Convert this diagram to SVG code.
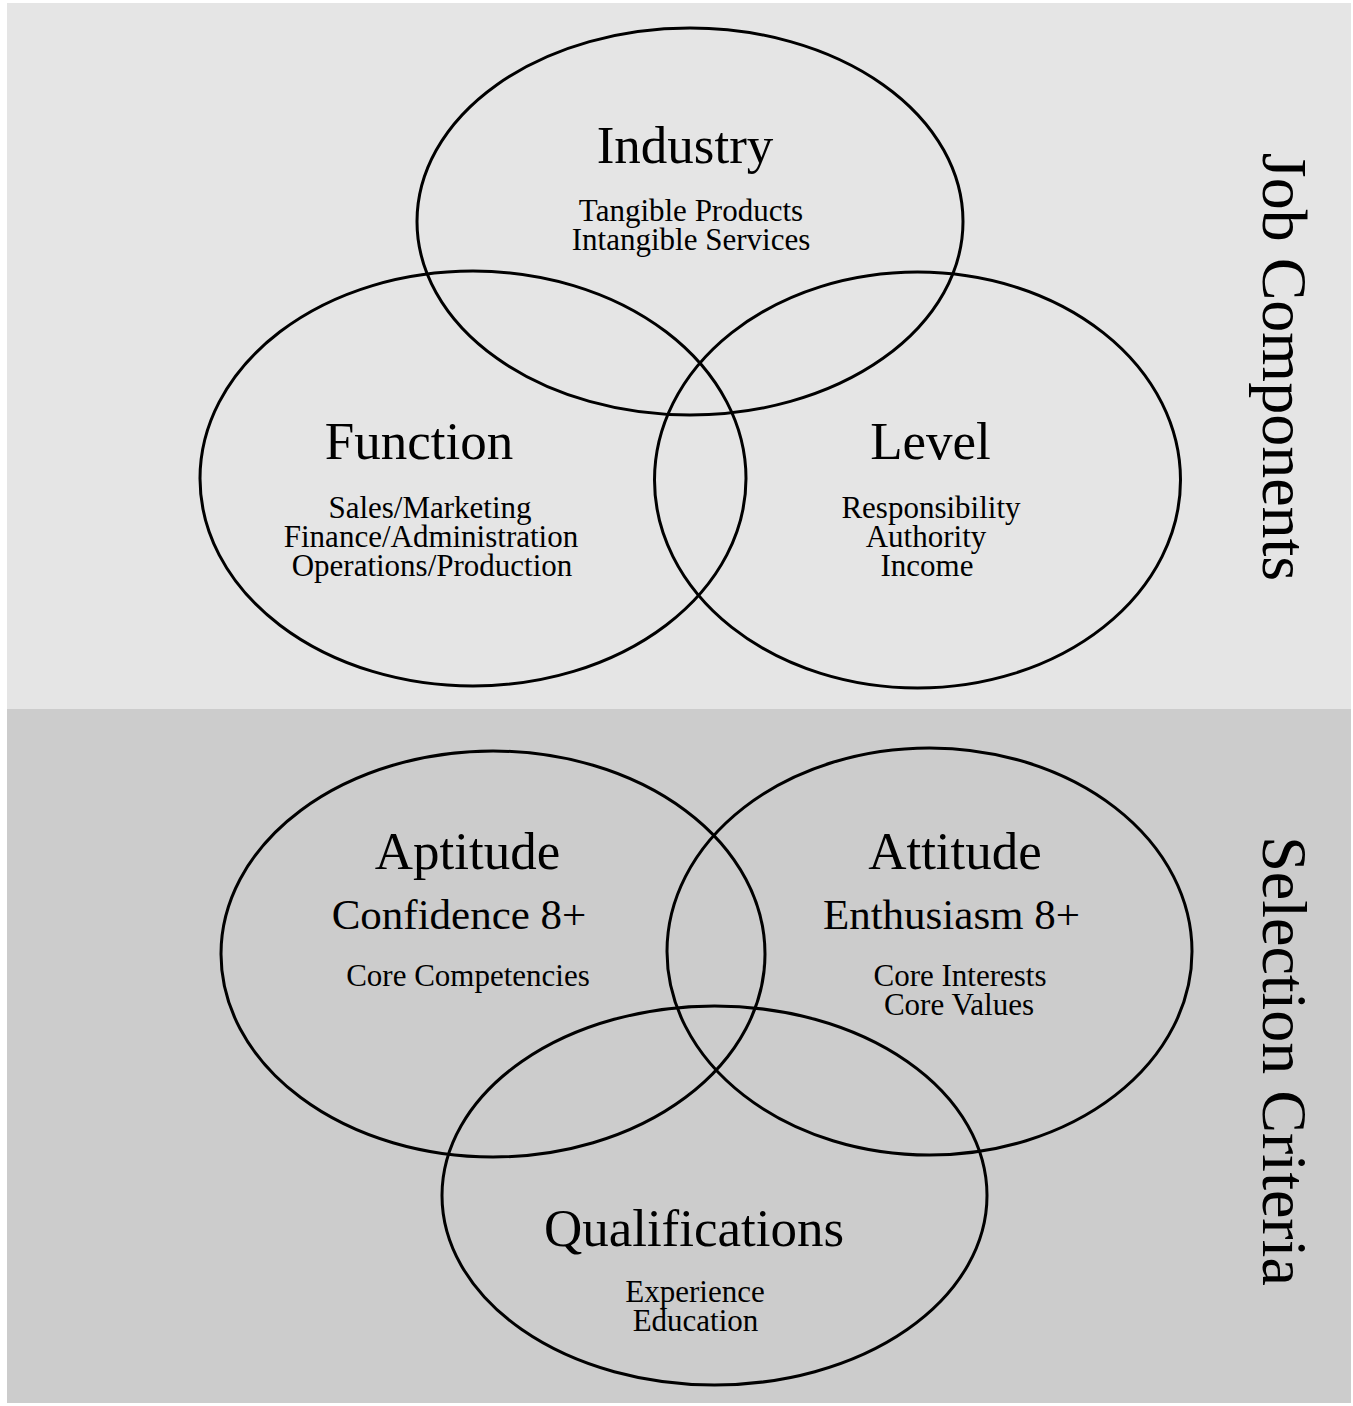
<svg xmlns="http://www.w3.org/2000/svg" width="1353" height="1406" viewBox="0 0 1353 1406">
  <style>
    .ring { fill: none; stroke: #000; stroke-width: 3; }
    text { font-family: "Liberation Serif", "Times New Roman", serif; fill: #000; text-anchor: middle; }
    .title { font-size: 53px; }
    .mid { font-size: 43px; }
    .sub { font-size: 31px; }
    .side { font-size: 64px; }
  </style>

  <!-- background bands -->
  <rect x="7" y="3" width="1344" height="706" fill="#e5e5e5"/>
  <rect x="7" y="709" width="1344" height="694" fill="#cccccc"/>

  <!-- Job components -->
  <g id="industry">
    <ellipse class="ring" cx="690" cy="221.5" rx="273" ry="193.5"/>
    <text class="title" x="685" y="163">Industry</text>
    <text class="sub" x="691" y="221">Tangible Products</text>
    <text class="sub" x="691" y="250">Intangible Services</text>
  </g>
  <g id="function">
    <ellipse class="ring" cx="473" cy="478.5" rx="273" ry="207.5"/>
    <text class="title" x="419" y="459">Function</text>
    <text class="sub" x="430" y="518">Sales/Marketing</text>
    <text class="sub" x="431" y="547">Finance/Administration</text>
    <text class="sub" x="432" y="576">Operations/Production</text>
  </g>
  <g id="level">
    <ellipse class="ring" cx="917.5" cy="480" rx="263" ry="208"/>
    <text class="title" x="930.5" y="459">Level</text>
    <text class="sub" x="931" y="518">Responsibility</text>
    <text class="sub" x="926" y="547">Authority</text>
    <text class="sub" x="927" y="576">Income</text>
  </g>
  <g id="job-components-label">
    <text class="side" transform="translate(1263 367) rotate(90)">Job Components</text>
  </g>

  <!-- Selection criteria -->
  <g id="aptitude">
    <ellipse class="ring" cx="493" cy="954" rx="272" ry="203"/>
    <text class="title" x="467.5" y="869">Aptitude</text>
    <text class="mid" x="459" y="929">Confidence 8+</text>
    <text class="sub" x="468" y="986">Core Competencies</text>
  </g>
  <g id="attitude">
    <ellipse class="ring" cx="929.5" cy="951.5" rx="262.5" ry="203.5"/>
    <text class="title" x="955" y="869">Attitude</text>
    <text class="mid" x="951.5" y="929">Enthusiasm 8+</text>
    <text class="sub" x="960" y="986">Core Interests</text>
    <text class="sub" x="959" y="1015">Core Values</text>
  </g>
  <g id="qualifications">
    <ellipse class="ring" cx="714.5" cy="1195.5" rx="272.5" ry="189.5"/>
    <text class="title" x="694" y="1246">Qualifications</text>
    <text class="sub" x="695" y="1302">Experience</text>
    <text class="sub" x="695.5" y="1331">Education</text>
  </g>
  <g id="selection-criteria-label">
    <text class="side" transform="translate(1263 1061) rotate(90)">Selection Criteria</text>
  </g>

  <!-- the diagram has no connectors -->
  <g id="connectors"/>
</svg>
